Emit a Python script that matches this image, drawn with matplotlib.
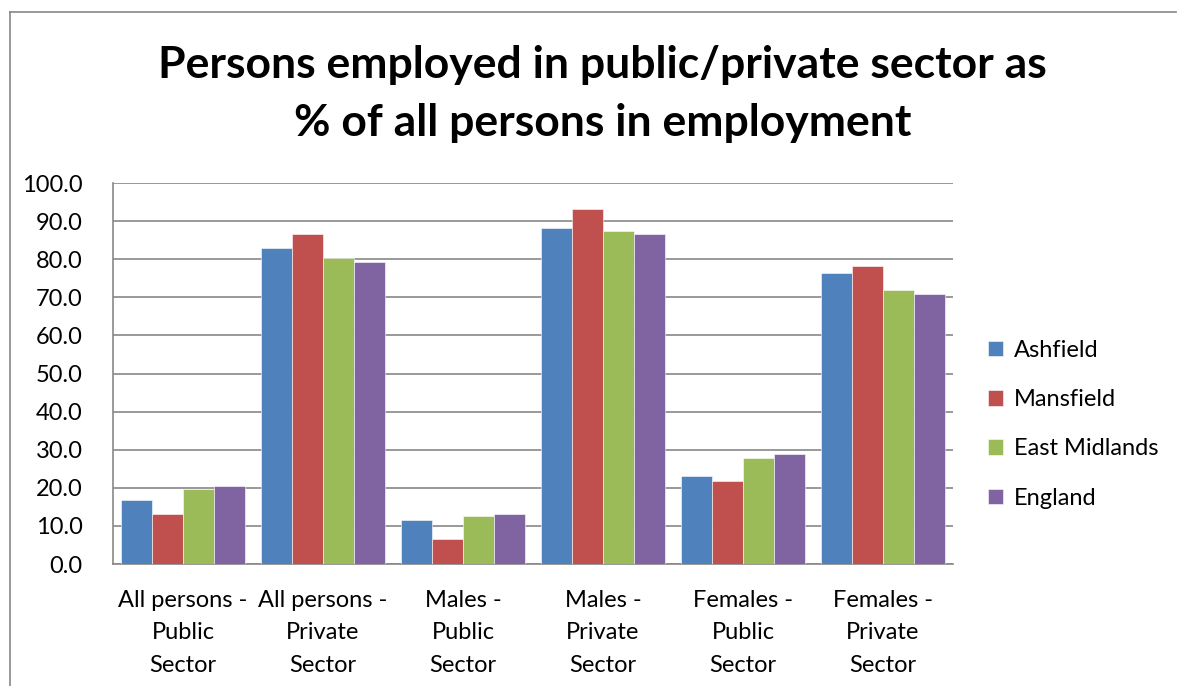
import matplotlib.pyplot as plt
import numpy as np
from matplotlib.lines import Line2D

# ── Data ────────────────────────────────────────────────────────────
categories = [
    "All persons -\nPublic\nSector",
    "All persons -\nPrivate\nSector",
    "Males -\nPublic\nSector",
    "Males -\nPrivate\nSector",
    "Females -\nPublic\nSector",
    "Females -\nPrivate\nSector",
]
ashfield = [16.8, 83.0, 11.6, 88.2, 23.2, 76.5]
mansfield = [13.2, 86.7, 6.7, 93.2, 21.8, 78.1]
east_midlands = [19.7, 80.2, 12.5, 87.3, 27.9, 71.9]
england = [20.5, 79.3, 13.2, 86.7, 28.9, 70.9]

series = [
    ("Ashfield", ashfield, "#4F81BD"),
    ("Mansfield", mansfield, "#C0504D"),
    ("East Midlands", east_midlands, "#9BBB59"),
    ("England", england, "#8064A2"),
]

plt.rcParams["font.family"] = ["Lato", "DejaVu Sans"]

# ── Plot ────────────────────────────────────────────────────────────
fig = plt.figure(figsize=(11.82, 6.86), dpi=100)
ax = fig.add_axes([0.0956, 0.1778, 0.7107, 0.5554])

x = np.arange(len(categories))
width = 0.22
for i, (name, vals, color) in enumerate(series):
    ax.bar(x + (i - 1.5) * width, vals, width, color=color,
           edgecolor="white", linewidth=0.4, label=name, zorder=3)

ax.set_xlim(-0.5, len(categories) - 0.5)
ax.set_ylim(0, 100)
ax.set_yticks(np.arange(0, 101, 10))
ax.set_yticklabels([f"{v:.1f}" for v in np.arange(0, 101, 10)], fontsize=17)
ax.set_xticks(x)
ax.set_xticklabels(categories, fontsize=17, linespacing=1.65)
ax.tick_params(length=0)
ax.tick_params(axis="y", pad=22)
ax.tick_params(axis="x", pad=19)

ax.grid(axis="y", color="#878787", linewidth=1.2, zorder=0)
for side in ["top", "right"]:
    ax.spines[side].set_visible(False)
for side in ["left", "bottom"]:
    ax.spines[side].set_color("#878787")
    ax.spines[side].set_linewidth(1.2)

ax.legend(loc="center left", bbox_to_anchor=(1.03, 0.367), frameon=False,
          fontsize=17, handlelength=0.65, handleheight=0.65, labelspacing=1.2,
          handletextpad=0.45, borderaxespad=0)

fig.text(0.51, 0.905, "Persons employed in public/private sector as",
         ha="center", va="center", fontsize=32, fontweight="bold")
fig.text(0.51, 0.82, "% of all persons in employment",
         ha="center", va="center", fontsize=32, fontweight="bold")

# Outer chart border
bc = "#878787"
fig.add_artist(Line2D([0.0085, 0.0085], [0, 0.9825], color=bc, lw=1.2))
fig.add_artist(Line2D([0.0085, 0.995], [0.9825, 0.9825], color=bc, lw=1.2))

fig.savefig("out.png", dpi=100)
